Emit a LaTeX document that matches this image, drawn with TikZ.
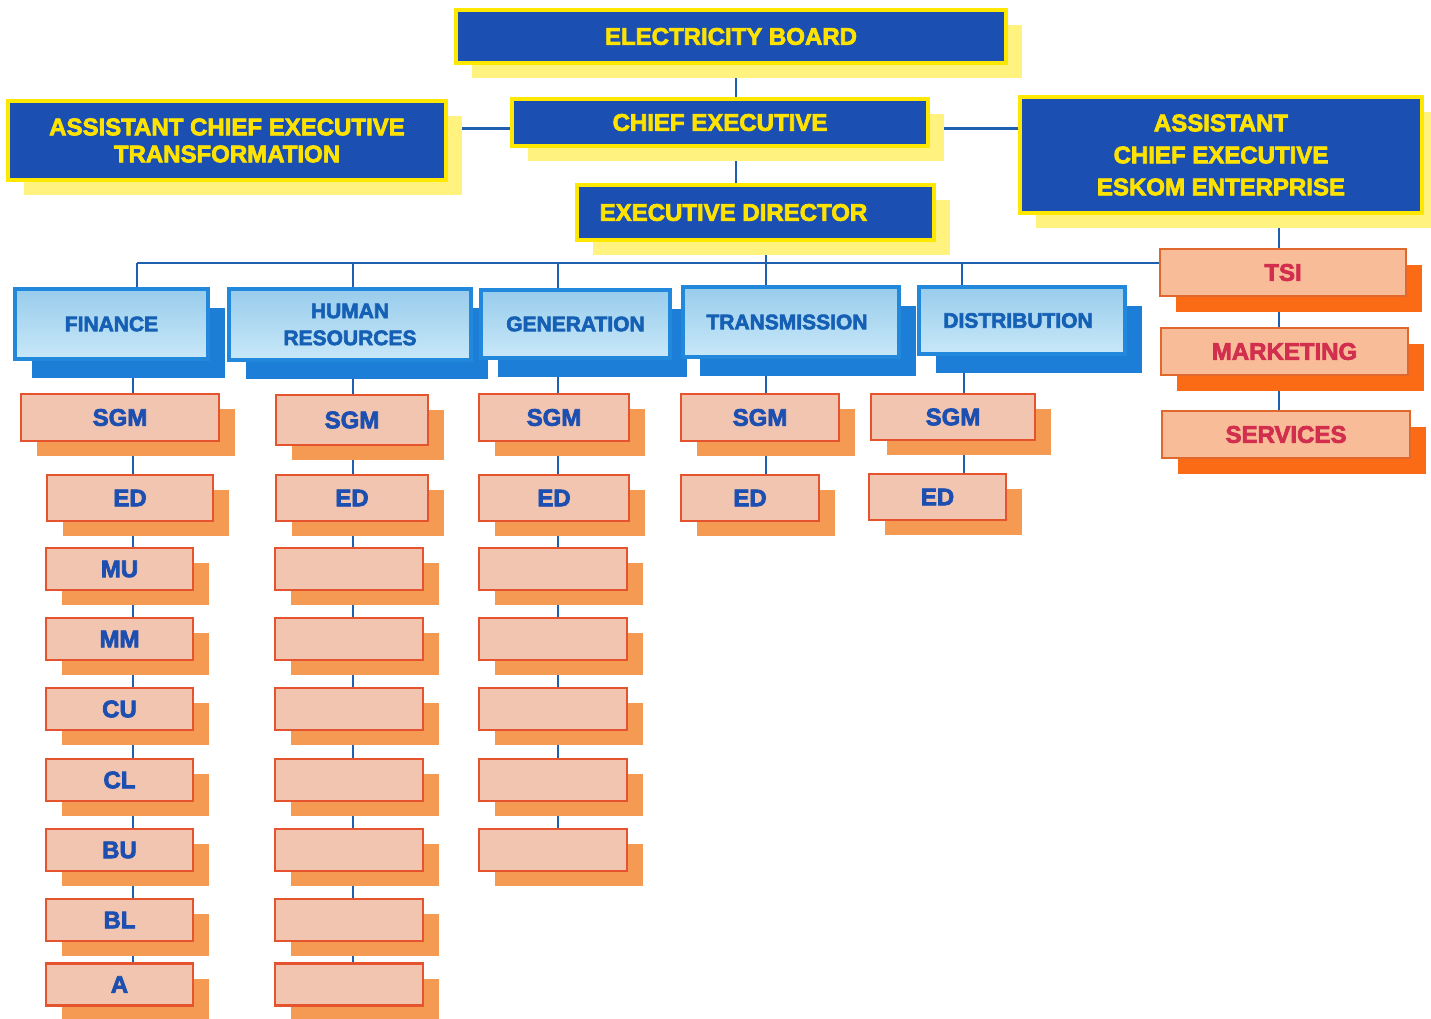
\documentclass[tikz,border=0pt]{standalone}
\usepackage{fontspec}
\setmainfont{Liberation Sans}[BoldFeatures={FakeBold=3}]
\usetikzlibrary{shadows}
\definecolor{topfill}{HTML}{1C4FB2}
\definecolor{topborder}{HTML}{FFE800}
\definecolor{topshadow}{HTML}{FFF27E}
\definecolor{toptext}{HTML}{FFE300}
\definecolor{deptborder}{HTML}{2288DC}
\definecolor{depttop}{HTML}{98CCEC}
\definecolor{deptbot}{HTML}{C8E8F8}
\definecolor{deptshadow}{HTML}{1C7ED6}
\definecolor{depttext}{HTML}{1560B4}
\definecolor{orfill}{HTML}{F1C5B0}
\definecolor{orborder}{HTML}{E5542E}
\definecolor{orshadow}{HTML}{F59A52}
\definecolor{ortext}{HTML}{1D4FB0}
\definecolor{rfill}{HTML}{F8BC98}
\definecolor{rborder}{HTML}{E0682C}
\definecolor{rshadow}{HTML}{FB6A14}
\definecolor{rtext}{HTML}{D22E4E}
\definecolor{linecol}{HTML}{1F5FB0}
\pgfdeclarelayer{back}
\pgfdeclarelayer{bg}
\pgfsetlayers{back,bg,main}
\tikzset{
  boxbase/.style={rectangle, inner sep=0pt, align=center, font=\bfseries},
  topbox/.style={boxbase, fill=topfill, draw=topborder, line width=4pt, text=toptext,
    font=\bfseries\fontsize{24}{30}\selectfont,
    general shadow={fill=topshadow, shadow xshift=16pt, shadow yshift=-15pt}},
  deptbox/.style={boxbase, top color=depttop, bottom color=deptbot, draw=deptborder, line width=4.5pt,
    text=depttext, font=\bfseries\fontsize{21}{27}\selectfont,
    general shadow={fill=deptshadow, shadow xshift=17pt, shadow yshift=-19pt}},
  orbox/.style={boxbase, fill=orfill, draw=orborder, line width=2.5pt, text=ortext,
    font=\bfseries\fontsize{24}{28}\selectfont,
    general shadow={fill=orshadow, shadow xshift=16pt, shadow yshift=-15pt}},
  rbox/.style={boxbase, fill=rfill, draw=rborder, line width=2.5pt, text=rtext,
    font=\bfseries\fontsize{24}{28}\selectfont,
    general shadow={fill=rshadow, shadow xshift=16pt, shadow yshift=-16pt}},
  conn/.style={draw=linecol, line width=2.5pt},
}
\begin{document}
\begin{tikzpicture}[x=1pt,y=-1pt]
\useasboundingbox (0,0) rectangle (1431,1019);
\begin{pgfonlayer}{back}
\fill[white] (0,0) rectangle (1431,1019);
\end{pgfonlayer}
% top level
\node[topbox, minimum width=550pt, minimum height=53pt] (eb) at (731,36.5) {ELECTRICITY BOARD};
\node[topbox, minimum width=416pt, minimum height=47pt] (ce) at (720,122.5) {CHIEF EXECUTIVE};
\node[topbox, minimum width=357pt, minimum height=55pt] (ed) at (755.5,212.5) {EXECUTIVE DIRECTOR\hspace*{44pt}};
\node[topbox, minimum width=438pt, minimum height=79pt, font=\bfseries\fontsize{24}{27}\selectfont] (acet) at (227,140.5) {ASSISTANT CHIEF EXECUTIVE\\TRANSFORMATION};
\node[topbox, minimum width=402pt, minimum height=116pt, font=\bfseries\fontsize{24}{32}\selectfont] (acee) at (1221,155) {ASSISTANT\\CHIEF EXECUTIVE\\ESKOM ENTERPRISE};
% departments
\node[deptbox, minimum width=193pt, minimum height=70pt] (fin) at (111.5,324) {FINANCE};
\node[deptbox, minimum width=242pt, minimum height=71pt] (hr) at (350,324.5) {HUMAN\\RESOURCES};
\node[deptbox, minimum width=189pt, minimum height=68pt] (gen) at (575.5,324) {GENERATION};
\node[deptbox, minimum width=216pt, minimum height=70pt] (tra) at (791,322) {TRANSMISSION\hspace*{8pt}};
\node[deptbox, minimum width=206pt, minimum height=67pt] (dis) at (1022,320.5) {DISTRIBUTION\hspace*{8pt}};
% right column
\node[rbox, minimum width=246pt, minimum height=47pt] (tsi) at (1283,272.5) {TSI};
\node[rbox, minimum width=247pt, minimum height=47pt] (mkt) at (1284.5,351.5) {MARKETING};
\node[rbox, minimum width=248pt, minimum height=47pt] (srv) at (1286,434.5) {SERVICES};
% finance column
\node[orbox, minimum width=198pt, minimum height=47pt] (fsgm) at (120,417.5) {SGM};
\node[orbox, minimum width=166pt, minimum height=46pt] (fed) at (130,498) {ED};
\node[orbox, minimum width=147pt, minimum height=42pt] (fmu) at (119.5,569) {MU};
\node[orbox, minimum width=147pt, minimum height=42pt] (fmm) at (119.5,639) {MM};
\node[orbox, minimum width=147pt, minimum height=42pt] (fcu) at (119.5,709) {CU};
\node[orbox, minimum width=147pt, minimum height=42pt] (fcl) at (119.5,780) {CL};
\node[orbox, minimum width=147pt, minimum height=42pt] (fbu) at (119.5,850) {BU};
\node[orbox, minimum width=147pt, minimum height=42pt] (fbl) at (119.5,920) {BL};
\node[orbox, minimum width=147pt, minimum height=42pt] (fa) at (119.5,984.5) {A};
% HR column
\node[orbox, minimum width=152pt, minimum height=50pt] (hsgm) at (352,420) {SGM};
\node[orbox, minimum width=152pt, minimum height=46pt] (hed) at (352,498) {ED};
\node[orbox, minimum width=148pt, minimum height=42pt] (h1) at (349,569) {};
\node[orbox, minimum width=148pt, minimum height=42pt] (h2) at (349,639) {};
\node[orbox, minimum width=148pt, minimum height=42pt] (h3) at (349,709) {};
\node[orbox, minimum width=148pt, minimum height=42pt] (h4) at (349,780) {};
\node[orbox, minimum width=148pt, minimum height=42pt] (h5) at (349,850) {};
\node[orbox, minimum width=148pt, minimum height=42pt] (h6) at (349,920) {};
\node[orbox, minimum width=148pt, minimum height=42pt] (h7) at (349,984.5) {};
% generation column
\node[orbox, minimum width=150pt, minimum height=47pt] (gsgm) at (554,417.5) {SGM};
\node[orbox, minimum width=150pt, minimum height=46pt] (ged) at (554,498) {ED};
\node[orbox, minimum width=148pt, minimum height=42pt] (g1) at (553,569) {};
\node[orbox, minimum width=148pt, minimum height=42pt] (g2) at (553,639) {};
\node[orbox, minimum width=148pt, minimum height=42pt] (g3) at (553,709) {};
\node[orbox, minimum width=148pt, minimum height=42pt] (g4) at (553,780) {};
\node[orbox, minimum width=148pt, minimum height=42pt] (g5) at (553,850) {};
% transmission column
\node[orbox, minimum width=158pt, minimum height=47pt] (tsgm) at (760,417.5) {SGM};
\node[orbox, minimum width=138pt, minimum height=46pt] (ted) at (750,498) {ED};
% distribution column
\node[orbox, minimum width=164pt, minimum height=46pt] (dsgm) at (953,417) {SGM};
\node[orbox, minimum width=137pt, minimum height=46pt] (ded) at (937.5,497) {ED};
% column positions and bus
\coordinate (xf) at (133,263);
\coordinate (xh) at (353,263);
\coordinate (xg) at (558,263);
\coordinate (xt) at (766,263);
\coordinate (xd) at (962,263);
\coordinate (xtop) at (736,0);
\coordinate (xr) at (1279,0);
\begin{pgfonlayer}{bg}
\draw[conn] (xtop |- eb.south) -- (xtop |- ed.north);
\draw[conn] ([yshift=-6pt]acet.east |- ce.west) -- ([yshift=-6pt]ce.west);
\draw[conn] ([yshift=-6pt]ce.east) -- ([yshift=-6pt]ce.east -| acee.west);
\draw[conn] (xt |- ed.south) -- (xt);
\draw[conn] ([xshift=4pt]xf) -- (xf -| tsi.west);
\draw[conn] ([xshift=4pt]xf) -- ([xshift=4pt]xf |- fin.north);
\draw[conn] (xh) -- (xh |- hr.north);
\draw[conn] (xg) -- (xg |- gen.north);
\draw[conn] (xt) -- (xt |- tra.north);
\draw[conn] (xd) -- (xd |- dis.north);
\draw[conn] (xf |- fin.south) -- (xf |- fa.north);
\draw[conn] (xh |- hr.south) -- (xh |- h7.north);
\draw[conn] (xg |- gen.south) -- (xg |- g5.north);
\draw[conn] (xt |- tra.south) -- (xt |- ted.north);
\draw[conn] ([xshift=2pt]xd |- dis.south) -- ([xshift=2pt]xd |- ded.north);
\draw[conn] (xr |- acee.south) -- (xr |- srv.north);
\end{pgfonlayer}
\end{tikzpicture}
\end{document}
